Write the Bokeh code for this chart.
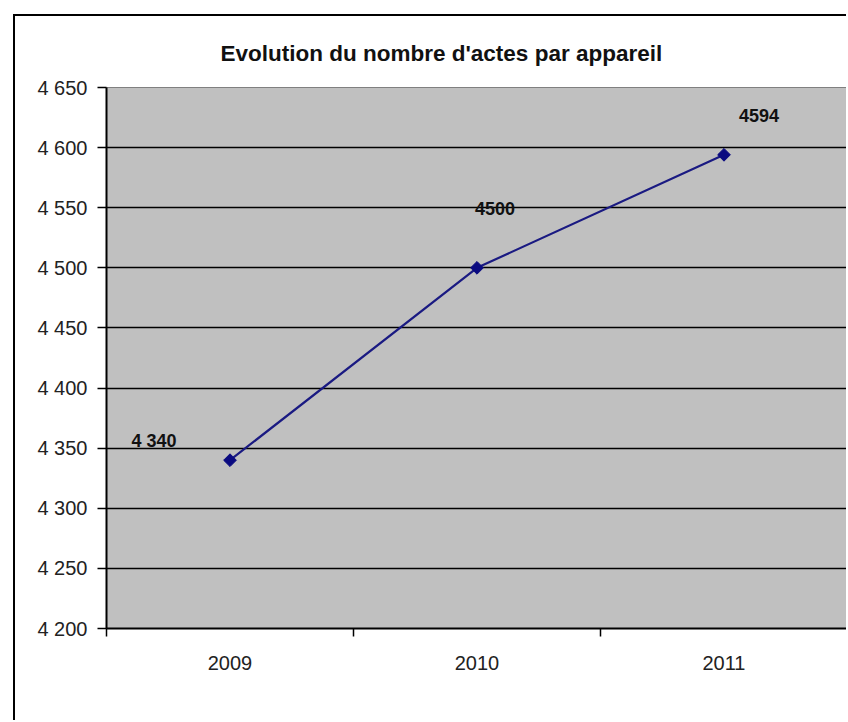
import math
from bokeh.plotting import figure
from bokeh.models import Range1d, FixedTicker, ColumnDataSource
from bokeh.core.properties import value
from bokeh.embed import file_html
from bokeh.resources import INLINE

# ---- data ----
years = ["2009", "2010", "2011"]
actes = [4340, 4500, 4594]
point_labels = ["4 340", "4500", "4594"]
y_ticks = [4200, 4250, 4300, 4350, 4400, 4450, 4500, 4550, 4600, 4650]
title_text = "Evolution du nombre d'actes  par appareil"

# ---- style (label offsets in screen px) ----
label_dx = [-76, 18, 35]
label_dy = [-19, -59, -39]

FONT = "Liberation Sans"

n = len(years)
xpos = [i + 0.5 for i in range(n)]   # category centres

p = figure(width=833, height=706, output_backend="svg", toolbar_location=None,
           x_range=Range1d(0, n), y_range=Range1d(y_ticks[0], y_ticks[-1]),
           min_border_left=91, min_border_right=1, min_border_top=71,
           min_border_bottom=94,
           margin=(14, 0, 0, 13),
           styles={"border-left": "2px solid black",
                   "border-top": "2px solid black"})

p.background_fill_color = "#c0c0c0"
p.border_fill_color = "white"
p.outline_line_color = "#808080"
p.outline_line_width = 1

# title
p.title.text = title_text
p.title.align = "left"
p.title.text_font = FONT
p.title.text_font_style = "bold"
p.title.text_font_size = "22.5px"
p.title.text_color = "#111111"
p.title.offset = 114
p.title.standoff = 44

# y axis
yax = p.yaxis[0]
yax.ticker = FixedTicker(ticks=y_ticks)
yax.major_label_overrides = {t: f"{t // 1000} {t % 1000:03d}" for t in y_ticks}
yax.major_tick_out = 9
yax.major_tick_in = 0
yax.minor_tick_out = 0
yax.minor_tick_in = 0
yax.major_label_standoff = 10
yax.major_label_text_font = FONT
yax.major_label_text_font_size = "20px"
yax.major_label_text_color = "#222222"
yax.axis_line_color = "black"
yax.axis_line_width = 2
yax.major_tick_line_color = "black"
yax.major_tick_line_width = 1.5

# x axis: labels at category centres, ticks between categories
xax = p.xaxis[0]
xax.ticker = FixedTicker(ticks=xpos, minor_ticks=list(range(n + 1)))
xax.major_label_overrides = {xpos[i]: years[i] for i in range(n)}
xax.major_tick_out = 0
xax.major_tick_in = 0
xax.minor_tick_out = 8
xax.minor_tick_in = 0
xax.minor_tick_line_color = "black"
xax.minor_tick_line_width = 1.5
xax.major_label_standoff = 19
xax.major_label_text_font = FONT
xax.major_label_text_font_size = "20px"
xax.major_label_text_color = "#222222"
xax.axis_line_color = "black"
xax.axis_line_width = 2

# grid
p.xgrid.visible = False
p.ygrid.ticker = FixedTicker(ticks=y_ticks[1:-1])
p.ygrid.grid_line_color = "black"
p.ygrid.grid_line_width = 1.5

# series
src = ColumnDataSource(dict(x=xpos, y=actes, lab=point_labels,
                            dx=label_dx, dy=label_dy))
p.line("x", "y", source=src, line_color="#1a1a82", line_width=2.2)
p.scatter("x", "y", source=src, marker="square", size=9, angle=math.pi / 4,
          fill_color="#0a0a80", line_color="#0a0a80")
p.text("x", "y", text="lab", source=src, x_offset="dx", y_offset="dy",
       text_align="center", text_baseline="middle",
       text_font=value(FONT), text_font_style="bold",
       text_font_size="18px", text_color="#111111")

open("out.html", "w").write(file_html(p, INLINE))
